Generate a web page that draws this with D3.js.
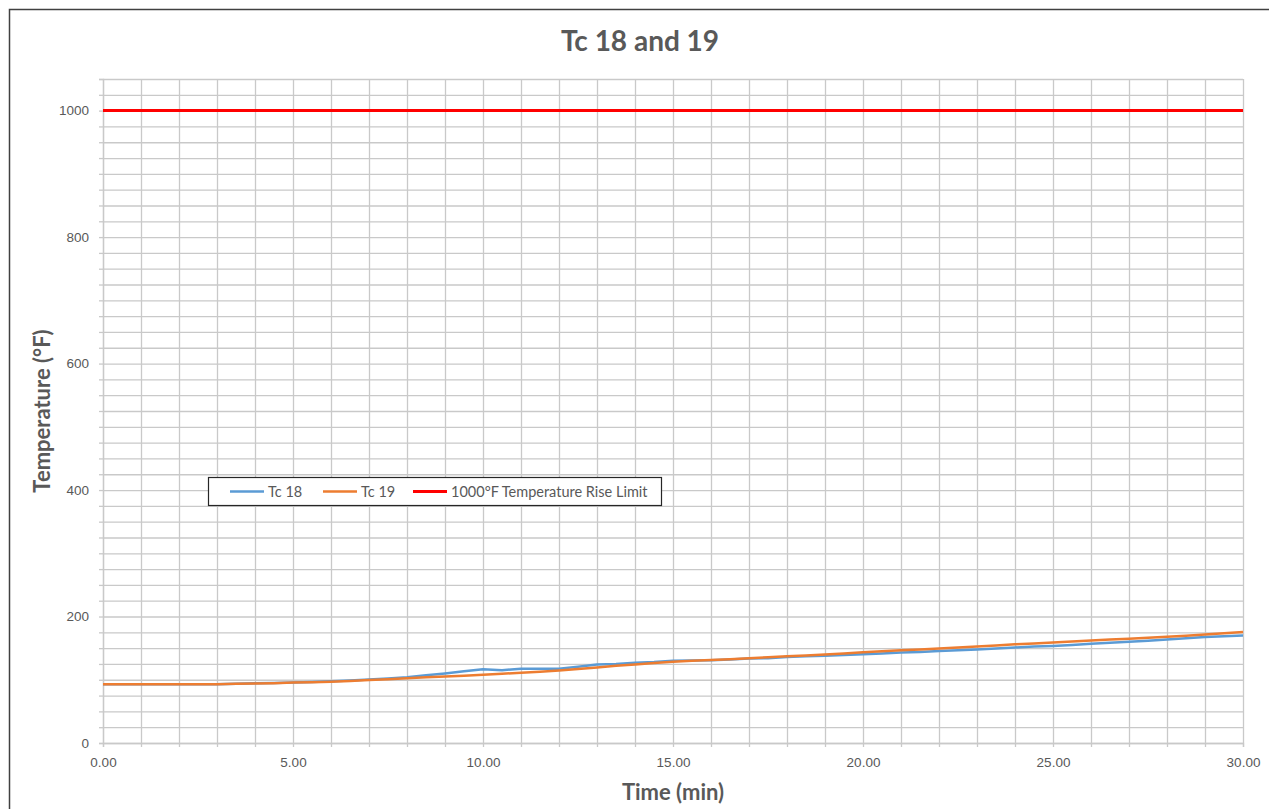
<!DOCTYPE html>
<html>
<head>
<meta charset="utf-8">
<script src="https://cdn.jsdelivr.net/npm/d3@7"></script>
<style>
  body { margin: 0; background: #fff; }
  svg { font-family: Lato, 'Open Sans', sans-serif; }
  .tick text { fill: #595959; font-size: 13.5px; }
</style>
</head>
<body>
<svg></svg>
<script>
/* time in minutes */
let times = [0, 0.5, 1, 1.5, 2, 2.5, 3, 3.5, 4, 4.5, 5, 5.5, 6, 6.5, 7, 7.5, 8, 8.5, 9, 9.5,
  10, 10.5, 11, 11.5, 12, 12.5, 13, 13.5, 14, 14.5, 15, 15.5, 16, 16.5, 17, 17.5, 18, 18.5, 19, 19.5,
  20, 20.5, 21, 21.5, 22, 22.5, 23, 23.5, 24, 24.5, 25, 25.5, 26, 26.5, 27, 27.5, 28, 28.5, 29, 29.5, 30]

let tc18 = [93, 93, 93, 93, 93, 93, 93, 93.5, 94.5, 95, 95.5, 96.5, 97.5, 99, 100.5, 102, 104, 107, 110, 113.5,
  116.5, 115, 117.5, 117.5, 117.5, 120.5, 124, 125, 127, 128, 130, 130.5, 131, 132, 133.5, 134, 136, 137, 138, 139,
  140.5, 141.5, 143, 144, 145.5, 146.5, 148, 149.5, 151, 152.5, 153.5, 155, 157, 158.5, 160, 161.5, 163.5, 165.5, 167.5, 169, 170]

let tc19 = [93, 93, 93, 93, 93, 93, 93, 93.5, 94, 94.5, 95.5, 96, 97, 98, 99.5, 101, 102.5, 104, 105, 106.5,
  108, 109.5, 111, 112.5, 114.5, 117, 119.5, 122, 124, 126.5, 128.5, 130, 131.3, 132.5, 134, 135.5, 137, 138.5, 140, 141.5,
  143.5, 145, 146.5, 148, 149.5, 151, 152.5, 154, 156, 157.5, 159, 160.5, 162, 163.5, 165, 166.5, 168, 169.5, 171.5, 173.5, 175.5]

let limitTimes = [0, 30]
let limitValues = [1000, 1000]

let seriesNames = ['Tc 18', 'Tc 19', '1000°F Temperature Rise Limit']
let seriesColors = ['#5B9BD5', '#ED7D31', '#FF0000']

let width = 1269
let height = 809
let plotLeft = 103
let plotRight = 1243
let plotTop = 79
let plotBottom = 743

let svg = d3.select('svg')
  .attr('width', width)
  .attr('height', height)

/* Chart border (right and bottom run off the picture) */
svg.append('rect')
  .attr('x', 9.5)
  .attr('y', 9.5)
  .attr('width', 1300)
  .attr('height', 900)
  .attr('fill', '#fff')
  .attr('stroke', '#404040')
  .attr('stroke-width', 1.5)

let xScale = d3.scaleLinear()
  .domain([0, 30])
  .range([plotLeft, plotRight])

let yScale = d3.scaleLinear()
  .domain([0, 1050])
  .range([plotBottom, plotTop])

/* Gridlines */
let xGrid = d3.axisBottom(xScale)
  .tickValues(d3.range(0, 31, 1))
  .tickSize(-(plotBottom - plotTop))
  .tickFormat('')

let yGrid = d3.axisLeft(yScale)
  .tickValues(d3.range(0, 1051, 25))
  .tickSize(-(plotRight - plotLeft))
  .tickFormat('')

svg.append('g')
  .attr('transform', `translate(0, ${plotBottom})`)
  .call(xGrid)
  .call(g => g.select('.domain').remove())
  .call(g => g.selectAll('line').attr('stroke', '#c9c9c9').attr('stroke-width', 1.3))

svg.append('g')
  .attr('transform', `translate(${plotLeft}, 0)`)
  .call(yGrid)
  .call(g => g.select('.domain').remove())
  .call(g => g.selectAll('line').attr('stroke', '#c9c9c9').attr('stroke-width', 1.3))

/* Axes with short outer ticks */
let xAxis = d3.axisBottom(xScale)
  .tickValues(d3.range(0, 31, 1))
  .tickSize(4)
  .tickPadding(10)
  .tickFormat(d => d % 5 === 0 ? d3.format('.2f')(d) : '')

let yAxis = d3.axisLeft(yScale)
  .tickValues(d3.range(0, 1051, 25))
  .tickSize(4)
  .tickPadding(10)
  .tickFormat(d => d % 200 === 0 ? d : '')

svg.append('g')
  .attr('transform', `translate(0, ${plotBottom})`)
  .call(xAxis)
  .call(g => g.select('.domain').attr('stroke', '#c9c9c9').attr('stroke-width', 1.3))
  .call(g => g.selectAll('.tick line').attr('stroke', '#c9c9c9').attr('stroke-width', 1.3))

svg.append('g')
  .attr('transform', `translate(${plotLeft}, 0)`)
  .call(yAxis)
  .call(g => g.select('.domain').attr('stroke', '#c9c9c9').attr('stroke-width', 1.3))
  .call(g => g.selectAll('.tick line').attr('stroke', '#c9c9c9').attr('stroke-width', 1.3))

/* Series lines */
let line = d3.line()
  .x(d => xScale(d[0]))
  .y(d => yScale(d[1]))

let series = [
  d3.zip(times, tc18),
  d3.zip(times, tc19),
  d3.zip(limitTimes, limitValues)
]

svg.append('g')
  .selectAll('path')
  .data(series)
  .enter()
  .append('path')
    .attr('d', line)
    .attr('fill', 'none')
    .attr('stroke', (d, i) => seriesColors[i])
    .attr('stroke-width', (d, i) => i === 2 ? 3 : 2.5)
    .attr('stroke-linejoin', 'round')

/* Legend */
let legend = svg.append('g')

legend.append('rect')
  .attr('x', 208.5)
  .attr('y', 477.5)
  .attr('width', 453)
  .attr('height', 28)
  .attr('fill', '#fff')
  .attr('stroke', '#262626')
  .attr('stroke-width', 1.2)

let legendX = [230, 323, 413]

legendX.forEach((lx, i) => {
  legend.append('line')
    .attr('x1', lx)
    .attr('x2', lx + 34)
    .attr('y1', 491.5)
    .attr('y2', 491.5)
    .attr('stroke', seriesColors[i])
    .attr('stroke-width', i === 2 ? 3 : 2.5)
  legend.append('text')
    .attr('x', lx + 38)
    .attr('y', 491.5)
    .attr('dy', '0.35em')
    .attr('fill', '#595959')
    .style('font-size', '14.5px')
    .text(seriesNames[i])
})

/* Chart title */
svg.append('text')
  .attr('x', 640)
  .attr('y', 51)
  .style('text-anchor', 'middle')
  .style('font-size', '28px')
  .style('font-weight', 'bold')
  .attr('fill', '#595959')
  .text('Tc 18 and 19')

/* x-axis label */
svg.append('text')
  .attr('x', (plotLeft + plotRight) / 2)
  .attr('y', 800)
  .style('text-anchor', 'middle')
  .style('font-size', '22px')
  .style('font-weight', 'bold')
  .attr('fill', '#595959')
  .text('Time (min)')

/* y-axis label */
svg.append('text')
  .attr('transform', 'rotate(-90)')
  .attr('x', -(plotTop + plotBottom) / 2)
  .attr('y', 50)
  .style('text-anchor', 'middle')
  .style('font-size', '22px')
  .style('font-weight', 'bold')
  .attr('fill', '#595959')
  .text('Temperature (°F)')
</script>
</body>
</html>
